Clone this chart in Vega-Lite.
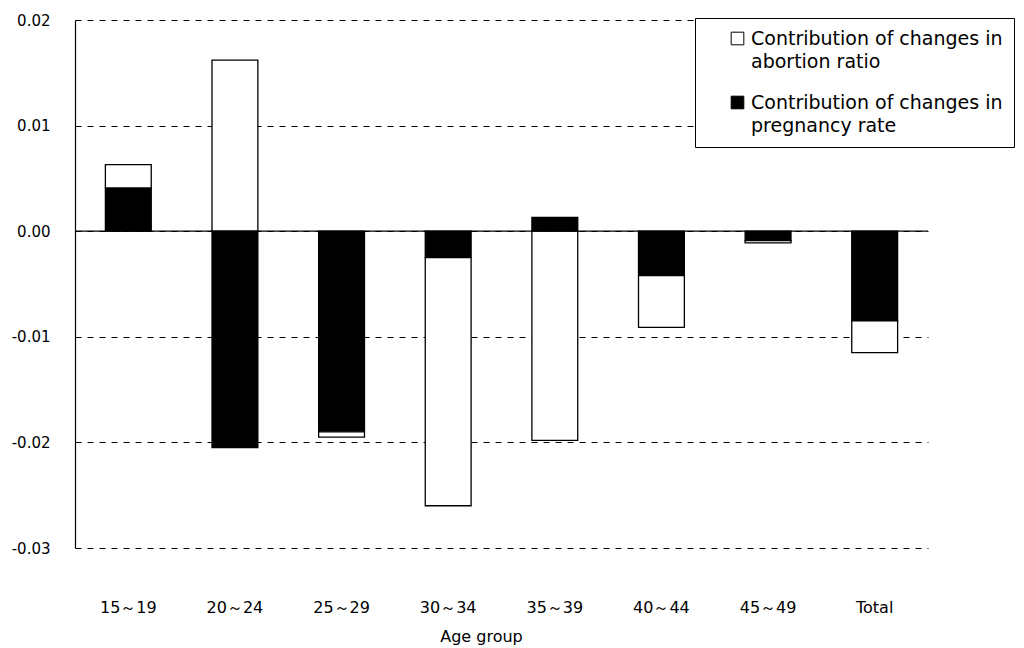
{
  "$schema": "https://vega.github.io/schema/vega-lite/v6.json",
  "autosize": "none",
  "width": 853,
  "height": 528,
  "padding": {"left": 75, "top": 20, "right": 96, "bottom": 100},
  "background": "white",
  "config": {
    "font": "DejaVu Sans",
    "view": {"stroke": null}
  },
  "data": {
    "values": [
      {"age": "15～19", "component": "Contribution of changes in pregnancy rate", "value": 0.0041},
      {"age": "15～19", "component": "Contribution of changes in abortion ratio", "value": 0.0022},
      {"age": "20～24", "component": "Contribution of changes in pregnancy rate", "value": -0.0205},
      {"age": "20～24", "component": "Contribution of changes in abortion ratio", "value": 0.0162},
      {"age": "25～29", "component": "Contribution of changes in pregnancy rate", "value": -0.0190},
      {"age": "25～29", "component": "Contribution of changes in abortion ratio", "value": -0.0005},
      {"age": "30～34", "component": "Contribution of changes in pregnancy rate", "value": -0.0025},
      {"age": "30～34", "component": "Contribution of changes in abortion ratio", "value": -0.0235},
      {"age": "35～39", "component": "Contribution of changes in pregnancy rate", "value": 0.0013},
      {"age": "35～39", "component": "Contribution of changes in abortion ratio", "value": -0.0198},
      {"age": "40～44", "component": "Contribution of changes in pregnancy rate", "value": -0.0042},
      {"age": "40～44", "component": "Contribution of changes in abortion ratio", "value": -0.0049},
      {"age": "45～49", "component": "Contribution of changes in pregnancy rate", "value": -0.0009},
      {"age": "45～49", "component": "Contribution of changes in abortion ratio", "value": -0.0002},
      {"age": "Total", "component": "Contribution of changes in pregnancy rate", "value": -0.0085},
      {"age": "Total", "component": "Contribution of changes in abortion ratio", "value": -0.0030}
    ]
  },
  "layer": [
    {
      "mark": {"type": "bar", "stroke": "black", "strokeWidth": 1.3},
      "encoding": {
        "x": {
          "field": "age",
          "type": "nominal",
          "sort": null,
          "scale": {"paddingInner": 0.57, "paddingOuter": 0.285},
          "axis": {
            "title": "Age group",
            "labelAngle": 0,
            "labelFontSize": 16,
            "labelColor": "black",
            "labelPadding": 51,
            "ticks": false,
            "domain": false,
            "titleFontSize": 16,
            "titleFontWeight": "normal",
            "titleColor": "black",
            "titlePadding": 13,
            "titleX": 406
          }
        },
        "y": {
          "field": "value",
          "type": "quantitative",
          "stack": "zero",
          "scale": {"domain": [-0.03, 0.02], "nice": false},
          "axis": {
            "title": null,
            "values": [-0.03, -0.02, -0.01, 0, 0.01, 0.02],
            "format": ".2f",
            "labelExpr": "replace(datum.label, '−', '-')",
            "labelFontSize": 15,
            "labelColor": "black",
            "labelPadding": 25,
            "ticks": false,
            "domain": true,
            "domainColor": "black",
            "domainWidth": 1.2,
            "grid": true,
            "gridColor": "black",
            "gridDash": [6, 6],
            "gridWidth": 1,
            "gridOpacity": 1
          }
        },
        "color": {
          "field": "component",
          "type": "nominal",
          "scale": {
            "domain": ["Contribution of changes in abortion ratio", "Contribution of changes in pregnancy rate"],
            "range": ["white", "black"]
          },
          "legend": {
            "title": null,
            "orient": "none",
            "legendX": 620,
            "legendY": -2,
            "direction": "vertical",
            "symbolType": "square",
            "symbolSize": 160,
            "symbolStrokeColor": "black",
            "symbolStrokeWidth": 1,
            "symbolOpacity": 1,
            "labelFontSize": 19,
            "labelColor": "black",
            "labelLimit": 400,
            "labelExpr": "[slice(datum.label, 0, 26), slice(datum.label, 27)]",
            "strokeColor": "black",
            "fillColor": "white",
            "padding": 11,
            "rowPadding": 21,
            "symbolOffset": 22,
            "labelOffset": 4,
            "encode": {
              "labels": {"update": {"lineHeight": {"value": 23}}}
            }
          }
        },
        "order": {"field": "component", "sort": "descending"}
      }
    },
    {
      "mark": {"type": "rule", "color": "black", "strokeWidth": 1.3},
      "data": {"values": [{"zero": 0}]},
      "encoding": {"y": {"field": "zero", "type": "quantitative"}}
    }
  ]
}
